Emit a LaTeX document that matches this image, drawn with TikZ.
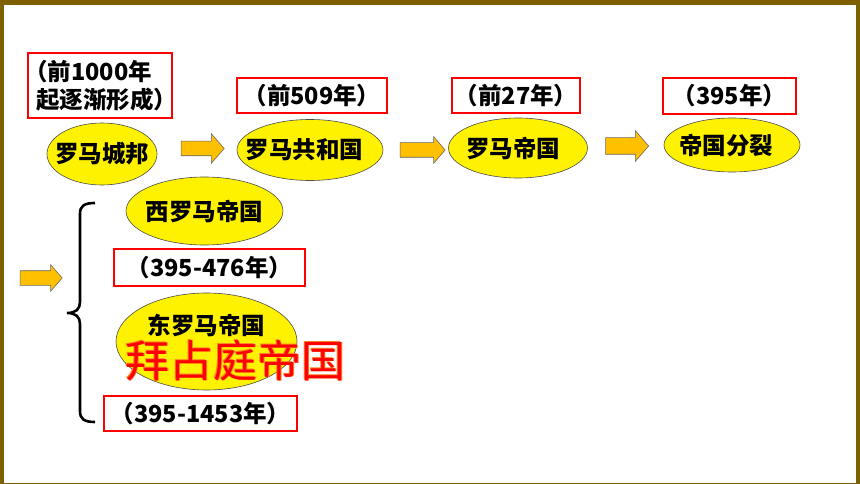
\documentclass[tikz,border=0pt]{standalone}
\usepackage{fontspec}
\newfontfamily\cjk{Noto Sans CJK SC}
\usetikzlibrary{shapes.geometric,shapes.arrows}
\definecolor{framebrown}{HTML}{7F6000}
\definecolor{arrowfill}{HTML}{FFC000}
\definecolor{glow}{HTML}{FF7F27}
\begin{document}
\begin{tikzpicture}[x=1pt,y=-1pt,
  every node/.style={font=\cjk\bfseries\fontsize{23.5}{28.5}\selectfont},
  oval/.style={ellipse, draw=black!70, line width=0.6pt, fill=yellow, inner sep=0pt},
  datebox/.style={rectangle, draw=red, line width=1.6pt, fill=white, inner sep=0pt},
  blockarrow/.style={single arrow, draw=black!60, line width=0.6pt, fill=arrowfill,
    inner xsep=0pt, text height=0pt, text depth=0pt, single arrow tip angle=98},
  bigtext/.style={font=\cjk\fontsize{44}{50}\selectfont, inner sep=0pt, text height=35pt, text depth=2pt}
]
\fill[framebrown] (0,0) rectangle (860,484);
\fill[white] (4,5) rectangle (855.5,482.5);
\useasboundingbox (0,0) rectangle (860,484);

% top row
\node[datebox, minimum width=144pt, minimum height=65pt, text width=128pt, align=left] (b1) at (100,85.5) {\hspace*{-0.5em}（前1000年\\起逐渐形成）};
\node[datebox, minimum width=150pt, minimum height=35pt] (b2) at (312,95.5) {（前509年）};
\node[datebox, minimum width=128pt, minimum height=35pt] (b3) at (516,95.5) {（前27年）};
\node[datebox, minimum width=133pt, minimum height=36pt] (b4) at (729.5,96) {（395年）};

\node[oval, minimum width=110pt, minimum height=62pt] (e1) at (102,154) {\makebox[0pt]{罗马城邦}};
\node[oval, minimum width=146pt, minimum height=61pt] (e2) at (310,150) {\makebox[0pt]{罗马共和国\hspace{11pt}}};
\node[oval, minimum width=139pt, minimum height=60pt] (e3) at (518,148) {\makebox[0pt]{罗马帝国\hspace{10pt}}};
\node[oval, minimum width=136pt, minimum height=54pt] (e4) at (732,145) {\makebox[0pt]{帝国分裂\hspace{12pt}}};

\node[blockarrow, inner ysep=7pt, single arrow head extend=7.5pt, minimum height=43pt] (a1) at (199.5,148.5) {};
\node[blockarrow, inner ysep=7pt, single arrow head extend=6pt, minimum height=45pt] (a2) at (419.5,150) {};
\node[blockarrow, inner ysep=8pt, single arrow head extend=7pt, minimum height=43pt] (a3) at (623.5,146) {};

% lower part
\node[blockarrow, inner ysep=7pt, single arrow head extend=6pt, minimum height=42pt] (a4) at (38,278) {};
\draw[line width=2.6pt] (95,203) .. controls (84,203) and (80,206) .. (80,214) -- (80,302)
  .. controls (80,309) and (76,313) .. (67,313) .. controls (76,313) and (80,317) .. (80,324)
  -- (80,411) .. controls (80,419) and (84,422) .. (95,422);

\node[oval, minimum width=157pt, minimum height=68pt] (e5) at (204.5,211) {\makebox[0pt]{西罗马帝国}};
\node[datebox, minimum width=191pt, minimum height=37pt] (b5) at (209.5,267.5) {（395-476年）\hspace{20pt}};
\node[oval, minimum width=181pt, minimum height=97pt, label={[yshift=16pt, inner sep=0pt, text height=19pt, text depth=1pt]center:东罗马帝国}] (e6) at (206.5,341.5) {};
\node[datebox, minimum width=193pt, minimum height=35pt] (b6) at (200.5,413.5) {（395-1453年）\hspace{10pt}};

\node[bigtext, text=glow] (g1) at (236.2,361.2) {拜占庭帝国};
\node[bigtext, text=glow] (g2) at (234.8,359.8) {拜占庭帝国};
\node[bigtext, text=red] (r) at (235.5,360.5) {拜占庭帝国};
\end{tikzpicture}
\end{document}
